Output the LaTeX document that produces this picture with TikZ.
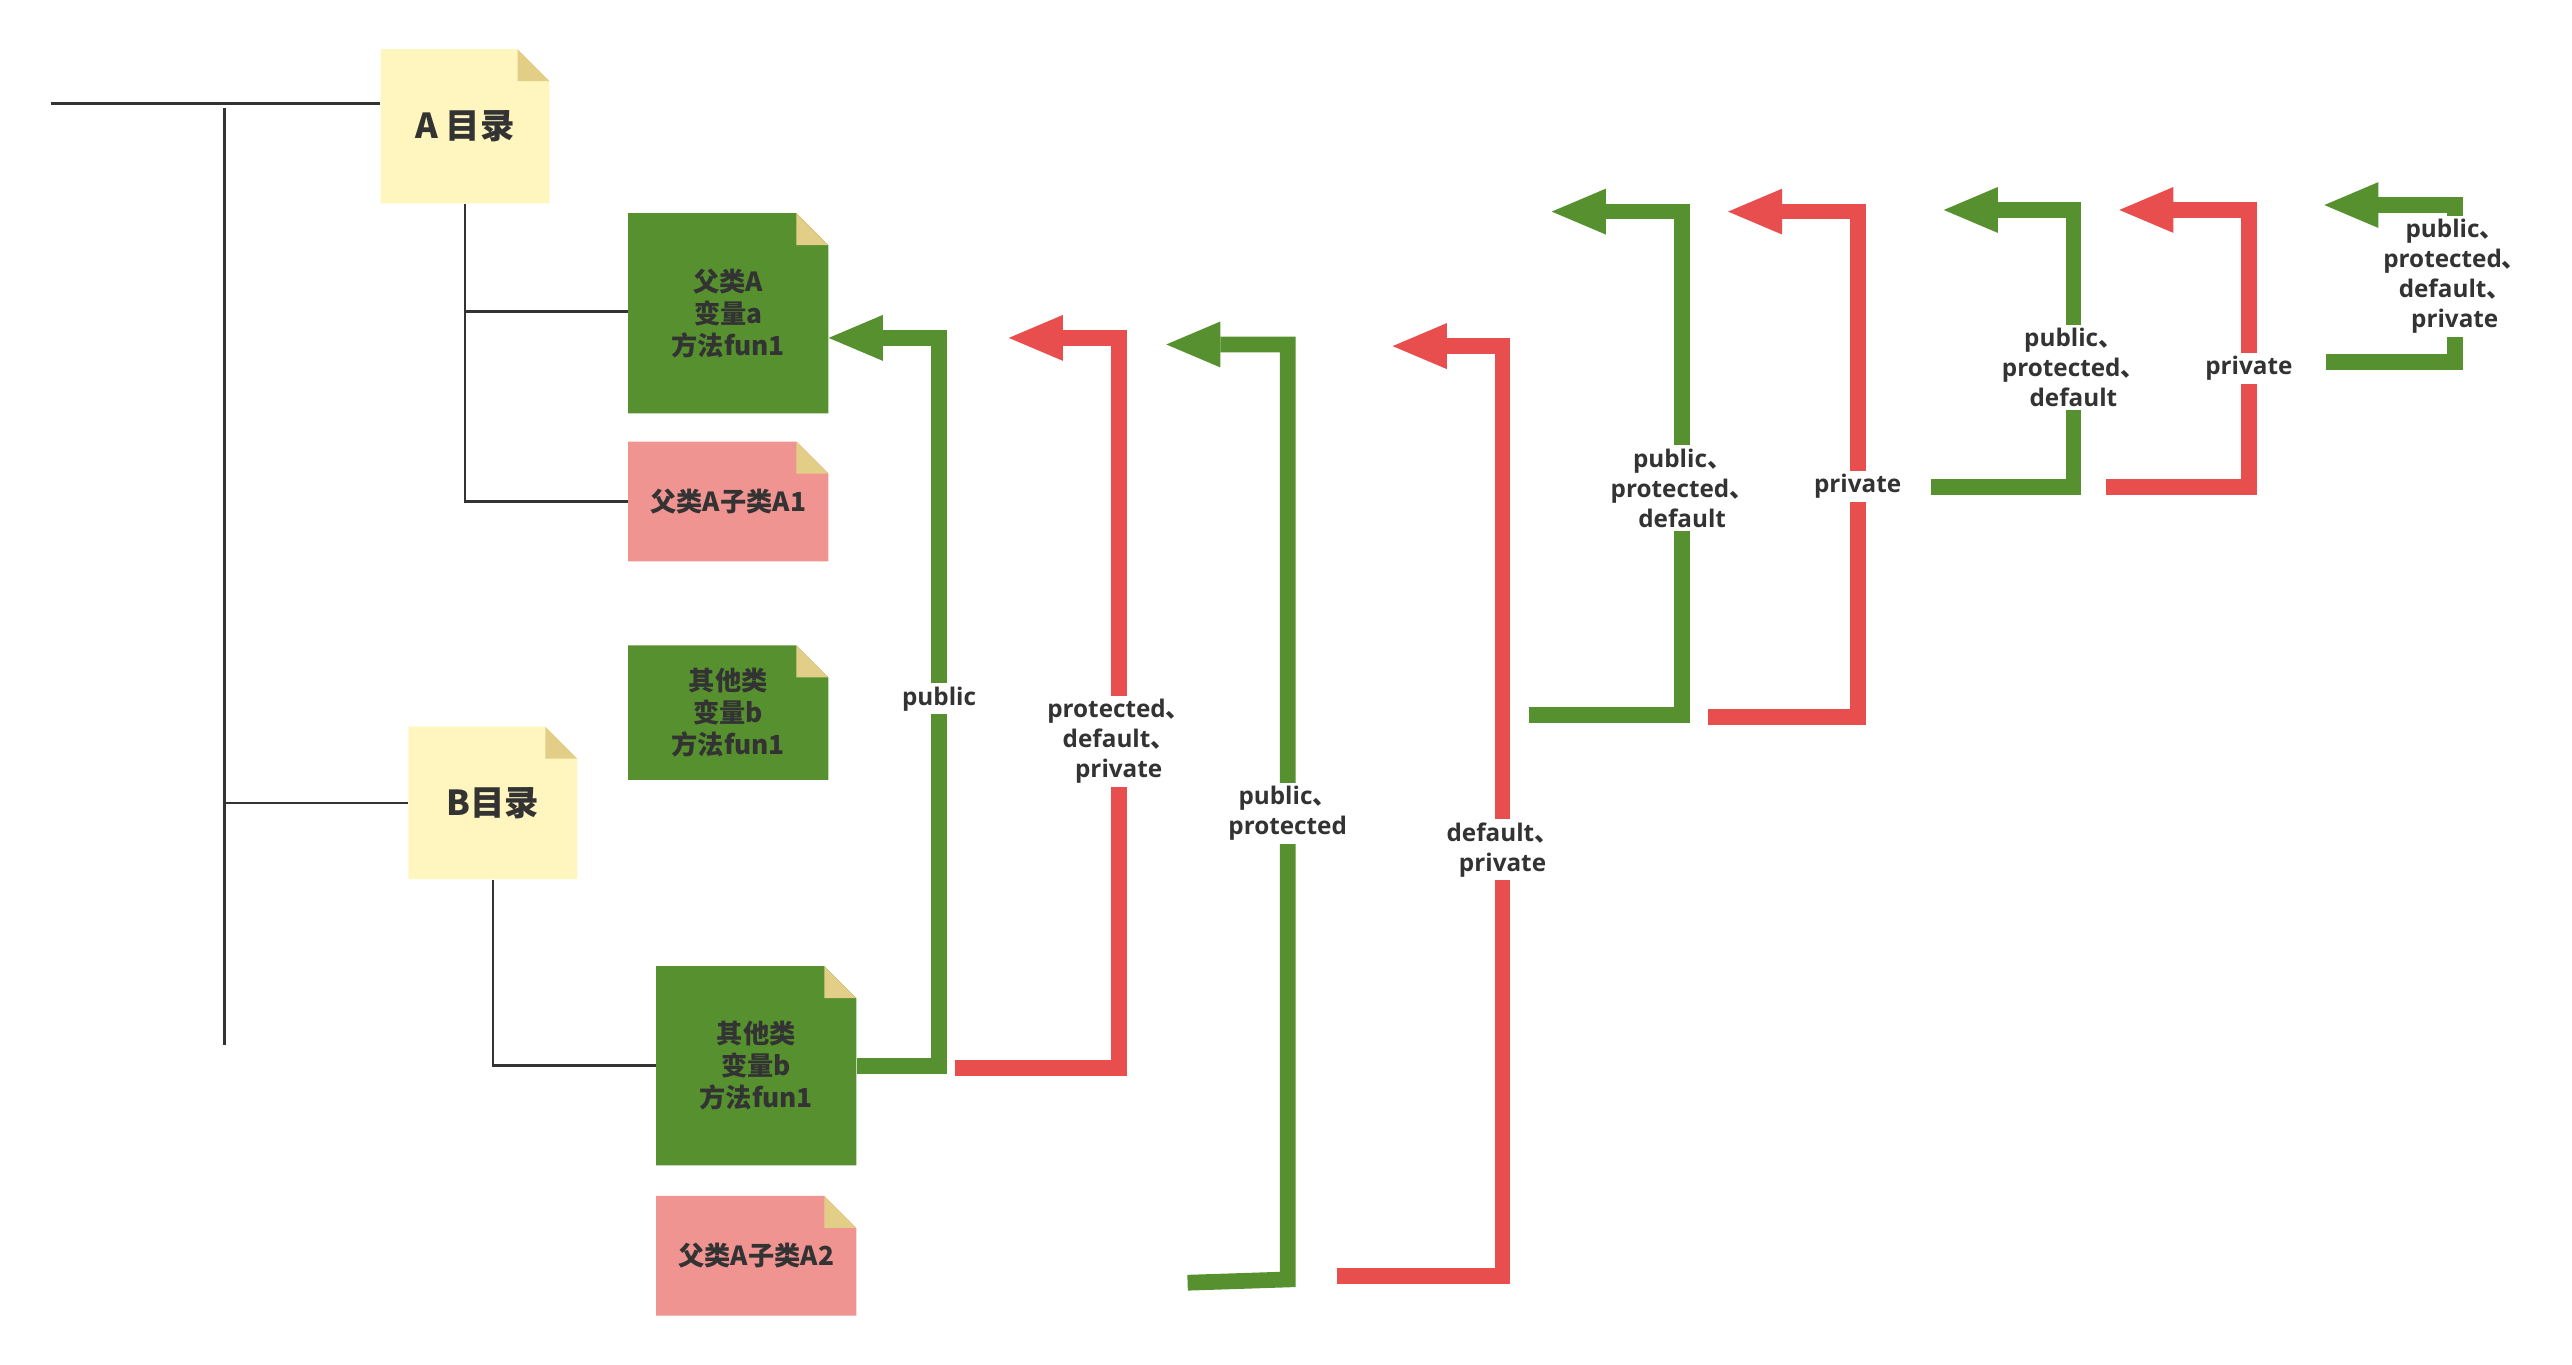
\documentclass[tikz,border=0pt]{standalone}
\usepackage{fontspec}
\setmainfont{Open Sans}
\newfontfamily\cjk{Noto Sans CJK SC}
\usetikzlibrary{arrows.meta}
\definecolor{gcol}{HTML}{56902F}
\definecolor{rcol}{HTML}{E84E4E}
\definecolor{pcol}{HTML}{F09492}
\definecolor{ycol}{HTML}{FFF6BF}
\definecolor{fcol}{HTML}{E3CE88}
\definecolor{tcol}{HTML}{333333}
\newcommand\dn{{\cjk 、}}
\begin{document}
\begin{tikzpicture}[x=1pt,y=-1pt,
  note/.style={rectangle, inner sep=0pt, align=center, text=tcol,
    font=\cjk\bfseries\fontsize{16}{19.5}\selectfont,
    path picture={
      \fill[#1] (path picture bounding box.north west)
        -- ([xshift=-19.5pt]path picture bounding box.north east)
        -- ([yshift=-19.5pt]path picture bounding box.north east)
        -- (path picture bounding box.south east)
        -- (path picture bounding box.south west) -- cycle;
      \fill[fcol] ([xshift=-19.5pt]path picture bounding box.north east)
        -- ([xshift=-19.5pt,yshift=-19.5pt]path picture bounding box.north east)
        -- ([yshift=-19.5pt]path picture bounding box.north east) -- cycle;
    }},
  dirbox/.style={note=ycol, font=\cjk\bfseries\fontsize{21}{24}\selectfont},
  lbl/.style={fill=white, inner xsep=1.5pt, inner ysep=2pt, align=center, text=tcol,
    font=\bfseries\fontsize{14.8}{18.3}\selectfont},
  tree/.style={draw=tcol, line width=1.5pt},
  garrow/.style={draw=gcol, line width=9.6pt, line join=miter,
    -{Triangle[length=33pt,width=28pt,line width=0pt]}},
  rarrow/.style={draw=rcol, line width=9.6pt, line join=miter,
    -{Triangle[length=33pt,width=28pt,line width=0pt]}}
]
\useasboundingbox (0,0) rectangle (1568,832);

% boxes
\node[dirbox, minimum width=103pt, minimum height=94pt] (A) at (283.5,77) {A 目录};
\node[dirbox, minimum width=103pt, minimum height=93pt] (B) at (300.5,489.5) {B目录};
\node[note=gcol, minimum width=122pt, minimum height=122pt] (FA) at (444,191) {父类A\\变量a\\方法fun1};
\node[note=pcol, minimum width=122pt, minimum height=73pt] (A1) at (444,305.7) {父类A子类A1};
\node[note=gcol, minimum width=122pt, minimum height=82pt] (OT) at (444,434.5) {其他类\\变量b\\方法fun1};
\node[note=gcol, minimum width=122pt, minimum height=121.5pt] (OB) at (461,649.7) {其他类\\变量b\\方法fun1};
\node[note=pcol, minimum width=122pt, minimum height=73pt] (A2) at (461,765.5) {父类A子类A2};

% tree lines
\coordinate (root) at (31,63);
\coordinate (vtop) at (137,66);
\coordinate (vbot) at (137,637);
\draw[tree] (root) -- (root -| A.west);
\draw[tree] (vtop) -- (vbot);
\draw[tree] (vtop |- B.west) -- (B.west);
\draw[tree] (A.south) |- (A1.west);
\draw[tree] (A.south |- 0,190) -- (FA.west |- 0,190);
\draw[tree] (B.south) |- (OB.west);

% arrows
\coordinate (a1c) at (572.5,206);
\draw[garrow] (OB.east) -| (a1c) -- (a1c -| FA.east);

\coordinate (a2s) at (582,651); \coordinate (a2c) at (682,206); \coordinate (a2t) at (615,206);
\draw[rarrow] (a2s) -| (a2c) -- (a2t);

\coordinate (a3s) at (724,782); \coordinate (a3b) at (785,780);
\coordinate (a3c) at (785,210); \coordinate (a3t) at (711,210);
\draw[garrow] (a3s) -- (a3b) -- (a3c) -- (a3t);

\coordinate (a4s) at (815,778); \coordinate (a4c) at (916,211); \coordinate (a4t) at (849,211);
\draw[rarrow] (a4s) -| (a4c) -- (a4t);

\coordinate (a5s) at (932,436); \coordinate (a5c) at (1025.5,129); \coordinate (a5t) at (946,129);
\draw[garrow] (a5s) -| (a5c) -- (a5t);

\coordinate (a6s) at (1041,437); \coordinate (a6c) at (1132.5,129); \coordinate (a6t) at (1053.5,129);
\draw[rarrow] (a6s) -| (a6c) -- (a6t);

\coordinate (a7s) at (1177,297); \coordinate (a7c) at (1264,128); \coordinate (a7t) at (1185,128);
\draw[garrow] (a7s) -| (a7c) -- (a7t);

\coordinate (a8s) at (1284,297); \coordinate (a8c) at (1371,128); \coordinate (a8t) at (1292,128);
\draw[rarrow] (a8s) -| (a8c) -- (a8t);

\coordinate (a9s) at (1418,220.5); \coordinate (a9c) at (1496.5,125); \coordinate (a9t) at (1417,125);
\draw[garrow] (a9s) -| (a9c) -- (a9t);

% labels
\node[lbl] (l1) at (572.5,426) {public};
\node[lbl] (l2) at (682,452) {protected\dn\\default\dn\\private};
\node[lbl] (l3) at (785,496) {public\dn\\protected};
\node[lbl] (l4) at (916,518) {default\dn\\private};
\node[lbl] (l5) at (1025.5,297.5) {public\dn\\protected\dn\\default};
\node[lbl] (l6) at (1132.5,296.5) {private};
\node[lbl] (l7) at (1264,224) {public\dn\\protected\dn\\default};
\node[lbl] (l8) at (1371,224.5) {private};
\node[lbl] (l9) at (1496.5,168.5) {public\dn\\protected\dn\\default\dn\\private};
\end{tikzpicture}
\end{document}
